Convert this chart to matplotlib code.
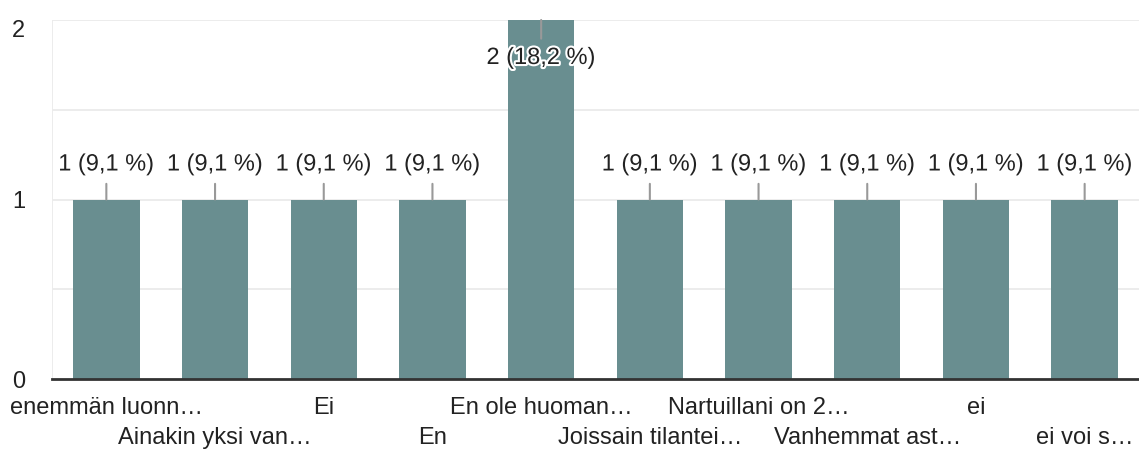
import matplotlib.pyplot as plt
import matplotlib.patheffects as pe
import numpy as np

plt.rcParams["font.family"] = ["Liberation Sans", "DejaVu Sans"]

categories = [
    "enemmän luonn…",
    "Ainakin yksi van…",
    "Ei",
    "En",
    "En ole huoman…",
    "Joissain tilantei…",
    "Nartuillani on 2…",
    "Vanhemmat ast…",
    "ei",
    "ei voi s…",
]
counts = [1, 1, 1, 1, 2, 1, 1, 1, 1, 1]
total = 11
y_ticks = [0, 1, 2]

bar_color = "#698e90"
text_color = "#222222"

fig = plt.figure(figsize=(11.39, 4.5), dpi=100)
ax = fig.add_axes([52 / 1139, 71 / 450, 1087 / 1139, 359 / 450])

x = np.arange(len(categories))
ax.bar(x, counts, width=0.61, color=bar_color, zorder=2)

ax.set_xlim(-0.5, len(categories) - 0.5)
ax.set_ylim(0, 2)

# grid
for v in [0.5, 1, 1.5, 2]:
    ax.axhline(v, color="#ebebeb", lw=1.3, zorder=0)
ax.axvline(-0.5, color="#ebebeb", lw=1.3, zorder=0)

for s in ["top", "right", "left"]:
    ax.spines[s].set_visible(False)
ax.spines["bottom"].set_color("#333333")
ax.spines["bottom"].set_linewidth(2)
ax.spines["bottom"].set_zorder(3)

ax.set_yticks(y_ticks)
ax.set_yticklabels([str(t) for t in y_ticks], fontsize=17, color=text_color)
ax.tick_params(axis="y", length=0, pad=24)
for lbl in ax.get_yticklabels():
    lbl.set_horizontalalignment("center")
ax.get_yticklabels()[-1].set_verticalalignment("top")
ax.get_yticklabels()[-1].set_y(2.0)

ax.set_xticks(x)
ax.set_xticklabels([])
ax.tick_params(axis="x", length=0)
for i, name in enumerate(categories):
    dy = -29 if i % 2 == 0 else -59
    ax.annotate(name, (i, 0), xytext=(0, dy), textcoords="offset pixels",
                ha="center", va="center", fontsize=17, color=text_color,
                annotation_clip=False)

# value labels with leader lines
top = max(counts)
for i, c in enumerate(counts):
    pct = f"{c / total * 100:.1f}".replace(".", ",")
    dy = -38 if c == top else 35
    ax.annotate(f"{c} ({pct} %)", xy=(i, c), xytext=(0, dy), textcoords="offset pixels",
                ha="center", va="center", fontsize=17, color=text_color, zorder=5,
                path_effects=[pe.withStroke(linewidth=3, foreground="white")],
                arrowprops=dict(arrowstyle="-", color="#999999", lw=1.5,
                                shrinkA=-4, shrinkB=0),
                annotation_clip=False)

fig.savefig("out.png", dpi=100)
